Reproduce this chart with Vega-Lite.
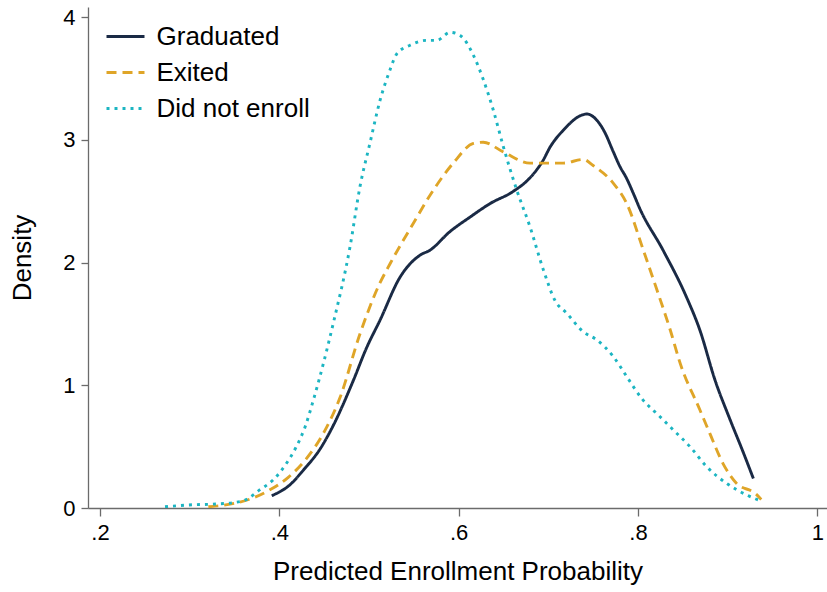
{
  "$schema": "https://vega.github.io/schema/vega-lite/v6.json",
  "autosize": {"type": "none"},
  "padding": {"left": 88, "top": 7, "right": 0, "bottom": 84},
  "width": 739,
  "height": 501,
  "background": "white",
  "config": {
    "view": {"stroke": null},
    "font": "Liberation Sans",
    "axis": {
      "grid": false,
      "domainColor": "#6b6b6b",
      "domainWidth": 1.3,
      "tickColor": "#6b6b6b",
      "tickWidth": 1.3,
      "labelColor": "black",
      "titleColor": "black",
      "labelFont": "Liberation Sans",
      "titleFont": "Liberation Sans",
      "labelFontSize": 22,
      "titleFontSize": 26,
      "titleFontWeight": "normal"
    }
  },
  "data": {
    "values": [
      {"group": "Graduated", "x": 0.3915, "y": 0.10},
      {"group": "Graduated", "x": 0.412, "y": 0.19},
      {"group": "Graduated", "x": 0.427, "y": 0.31},
      {"group": "Graduated", "x": 0.4454, "y": 0.48},
      {"group": "Graduated", "x": 0.460, "y": 0.67},
      {"group": "Graduated", "x": 0.4826, "y": 1.04},
      {"group": "Graduated", "x": 0.497, "y": 1.30},
      {"group": "Graduated", "x": 0.5123, "y": 1.53},
      {"group": "Graduated", "x": 0.5346, "y": 1.88},
      {"group": "Graduated", "x": 0.557, "y": 2.06},
      {"group": "Graduated", "x": 0.568, "y": 2.10},
      {"group": "Graduated", "x": 0.590, "y": 2.25},
      {"group": "Graduated", "x": 0.6127, "y": 2.37},
      {"group": "Graduated", "x": 0.635, "y": 2.48},
      {"group": "Graduated", "x": 0.661, "y": 2.58},
      {"group": "Graduated", "x": 0.6796, "y": 2.69},
      {"group": "Graduated", "x": 0.694, "y": 2.83},
      {"group": "Graduated", "x": 0.702, "y": 2.94},
      {"group": "Graduated", "x": 0.717, "y": 3.08},
      {"group": "Graduated", "x": 0.737, "y": 3.20},
      {"group": "Graduated", "x": 0.743, "y": 3.21},
      {"group": "Graduated", "x": 0.754, "y": 3.16},
      {"group": "Graduated", "x": 0.763, "y": 3.06},
      {"group": "Graduated", "x": 0.772, "y": 2.91},
      {"group": "Graduated", "x": 0.780, "y": 2.78},
      {"group": "Graduated", "x": 0.787, "y": 2.69},
      {"group": "Graduated", "x": 0.795, "y": 2.56},
      {"group": "Graduated", "x": 0.802, "y": 2.44},
      {"group": "Graduated", "x": 0.828, "y": 2.10},
      {"group": "Graduated", "x": 0.854, "y": 1.72},
      {"group": "Graduated", "x": 0.869, "y": 1.45},
      {"group": "Graduated", "x": 0.886, "y": 1.04},
      {"group": "Graduated", "x": 0.9027, "y": 0.72},
      {"group": "Graduated", "x": 0.9176, "y": 0.45},
      {"group": "Graduated", "x": 0.9287, "y": 0.24},

      {"group": "Exited", "x": 0.3208, "y": 0.01},
      {"group": "Exited", "x": 0.348, "y": 0.035},
      {"group": "Exited", "x": 0.37, "y": 0.08},
      {"group": "Exited", "x": 0.39, "y": 0.15},
      {"group": "Exited", "x": 0.41, "y": 0.25},
      {"group": "Exited", "x": 0.43, "y": 0.40},
      {"group": "Exited", "x": 0.45, "y": 0.62},
      {"group": "Exited", "x": 0.4677, "y": 0.90},
      {"group": "Exited", "x": 0.49, "y": 1.42},
      {"group": "Exited", "x": 0.512, "y": 1.83},
      {"group": "Exited", "x": 0.5235, "y": 1.99},
      {"group": "Exited", "x": 0.5495, "y": 2.32},
      {"group": "Exited", "x": 0.5718, "y": 2.59},
      {"group": "Exited", "x": 0.594, "y": 2.81},
      {"group": "Exited", "x": 0.6164, "y": 2.97},
      {"group": "Exited", "x": 0.6275, "y": 2.98},
      {"group": "Exited", "x": 0.650, "y": 2.90},
      {"group": "Exited", "x": 0.6796, "y": 2.81},
      {"group": "Exited", "x": 0.7168, "y": 2.81},
      {"group": "Exited", "x": 0.739, "y": 2.84},
      {"group": "Exited", "x": 0.750, "y": 2.79},
      {"group": "Exited", "x": 0.7726, "y": 2.645},
      {"group": "Exited", "x": 0.7875, "y": 2.48},
      {"group": "Exited", "x": 0.806, "y": 2.10},
      {"group": "Exited", "x": 0.821, "y": 1.78},
      {"group": "Exited", "x": 0.836, "y": 1.45},
      {"group": "Exited", "x": 0.847, "y": 1.18},
      {"group": "Exited", "x": 0.869, "y": 0.80},
      {"group": "Exited", "x": 0.880, "y": 0.61},
      {"group": "Exited", "x": 0.895, "y": 0.36},
      {"group": "Exited", "x": 0.910, "y": 0.20},
      {"group": "Exited", "x": 0.9306, "y": 0.12},
      {"group": "Exited", "x": 0.9375, "y": 0.07},

      {"group": "Did not enroll", "x": 0.2725, "y": 0.01},
      {"group": "Did not enroll", "x": 0.297, "y": 0.024},
      {"group": "Did not enroll", "x": 0.33, "y": 0.033},
      {"group": "Did not enroll", "x": 0.348, "y": 0.043},
      {"group": "Did not enroll", "x": 0.3636, "y": 0.07},
      {"group": "Did not enroll", "x": 0.378, "y": 0.147},
      {"group": "Did not enroll", "x": 0.393, "y": 0.228},
      {"group": "Did not enroll", "x": 0.408, "y": 0.364},
      {"group": "Did not enroll", "x": 0.419, "y": 0.50},
      {"group": "Did not enroll", "x": 0.4287, "y": 0.66},
      {"group": "Did not enroll", "x": 0.438, "y": 0.88},
      {"group": "Did not enroll", "x": 0.46, "y": 1.50},
      {"group": "Did not enroll", "x": 0.4789, "y": 2.13},
      {"group": "Did not enroll", "x": 0.49, "y": 2.62},
      {"group": "Did not enroll", "x": 0.501, "y": 2.97},
      {"group": "Did not enroll", "x": 0.5123, "y": 3.32},
      {"group": "Did not enroll", "x": 0.5235, "y": 3.57},
      {"group": "Did not enroll", "x": 0.531, "y": 3.70},
      {"group": "Did not enroll", "x": 0.5458, "y": 3.77},
      {"group": "Did not enroll", "x": 0.5644, "y": 3.81},
      {"group": "Did not enroll", "x": 0.5756, "y": 3.81},
      {"group": "Did not enroll", "x": 0.5904, "y": 3.875},
      {"group": "Did not enroll", "x": 0.6016, "y": 3.85},
      {"group": "Did not enroll", "x": 0.6164, "y": 3.69},
      {"group": "Did not enroll", "x": 0.6275, "y": 3.49},
      {"group": "Did not enroll", "x": 0.6387, "y": 3.24},
      {"group": "Did not enroll", "x": 0.650, "y": 2.94},
      {"group": "Did not enroll", "x": 0.6648, "y": 2.59},
      {"group": "Did not enroll", "x": 0.6796, "y": 2.29},
      {"group": "Did not enroll", "x": 0.6945, "y": 1.94},
      {"group": "Did not enroll", "x": 0.7075, "y": 1.69},
      {"group": "Did not enroll", "x": 0.7206, "y": 1.586},
      {"group": "Did not enroll", "x": 0.739, "y": 1.436},
      {"group": "Did not enroll", "x": 0.754, "y": 1.37},
      {"group": "Did not enroll", "x": 0.7726, "y": 1.233},
      {"group": "Did not enroll", "x": 0.7875, "y": 1.07},
      {"group": "Did not enroll", "x": 0.804, "y": 0.894},
      {"group": "Did not enroll", "x": 0.8246, "y": 0.744},
      {"group": "Did not enroll", "x": 0.8395, "y": 0.635},
      {"group": "Did not enroll", "x": 0.858, "y": 0.50},
      {"group": "Did not enroll", "x": 0.8767, "y": 0.336},
      {"group": "Did not enroll", "x": 0.899, "y": 0.20},
      {"group": "Did not enroll", "x": 0.9213, "y": 0.106},
      {"group": "Did not enroll", "x": 0.9343, "y": 0.065}
    ]
  },
  "mark": {"type": "line", "strokeWidth": 2.9, "interpolate": "monotone", "clip": true},
  "encoding": {
    "x": {
      "field": "x",
      "type": "quantitative",
      "scale": {"domain": [0.18661, 1.01082], "nice": false, "zero": false},
      "axis": {
        "values": [0.2, 0.4, 0.6, 0.8, 1],
        "labelExpr": "replace(format(datum.value, '.1~f'), '0.', '.')",
        "title": "Predicted Enrollment Probability",
        "tickSize": 8,
        "labelPadding": 6,
        "labelFlush": false,
        "titleBaseline": "top",
        "titleY": 50
      }
    },
    "y": {
      "field": "y",
      "type": "quantitative",
      "scale": {"domain": [0, 4.0815], "nice": false, "zero": true},
      "axis": {
        "values": [0, 1, 2, 3, 4],
        "title": "Density",
        "tickSize": 7,
        "labelPadding": 6,
        "labelFlush": false,
        "titleBaseline": "alphabetic",
        "titleX": -58
      }
    },
    "color": {
      "field": "group",
      "type": "nominal",
      "scale": {
        "domain": ["Graduated", "Exited", "Did not enroll"],
        "range": ["#1a2a45", "#dfa528", "#1cb5c2"]
      },
      "legend": {
        "title": null,
        "orient": "none",
        "legendX": 17,
        "legendY": 9,
        "padding": 0,
        "symbolType": "stroke",
        "symbolSize": 1444,
        "symbolStrokeWidth": 2.9,
        "labelFontSize": 26,
        "labelFont": "Liberation Sans",
        "labelColor": "black",
        "labelOffset": 10.5,
        "rowPadding": 2
      }
    },
    "strokeDash": {
      "field": "group",
      "type": "nominal",
      "scale": {
        "domain": ["Graduated", "Exited", "Did not enroll"],
        "range": [[1, 0], [10, 6], [3, 5]]
      },
      "legend": {
        "title": null,
        "orient": "none",
        "legendX": 17,
        "legendY": 9,
        "padding": 0,
        "symbolType": "stroke",
        "symbolSize": 1444,
        "symbolStrokeWidth": 2.9,
        "labelFontSize": 26,
        "labelFont": "Liberation Sans",
        "labelColor": "black",
        "labelOffset": 10.5,
        "rowPadding": 2
      }
    }
  }
}
